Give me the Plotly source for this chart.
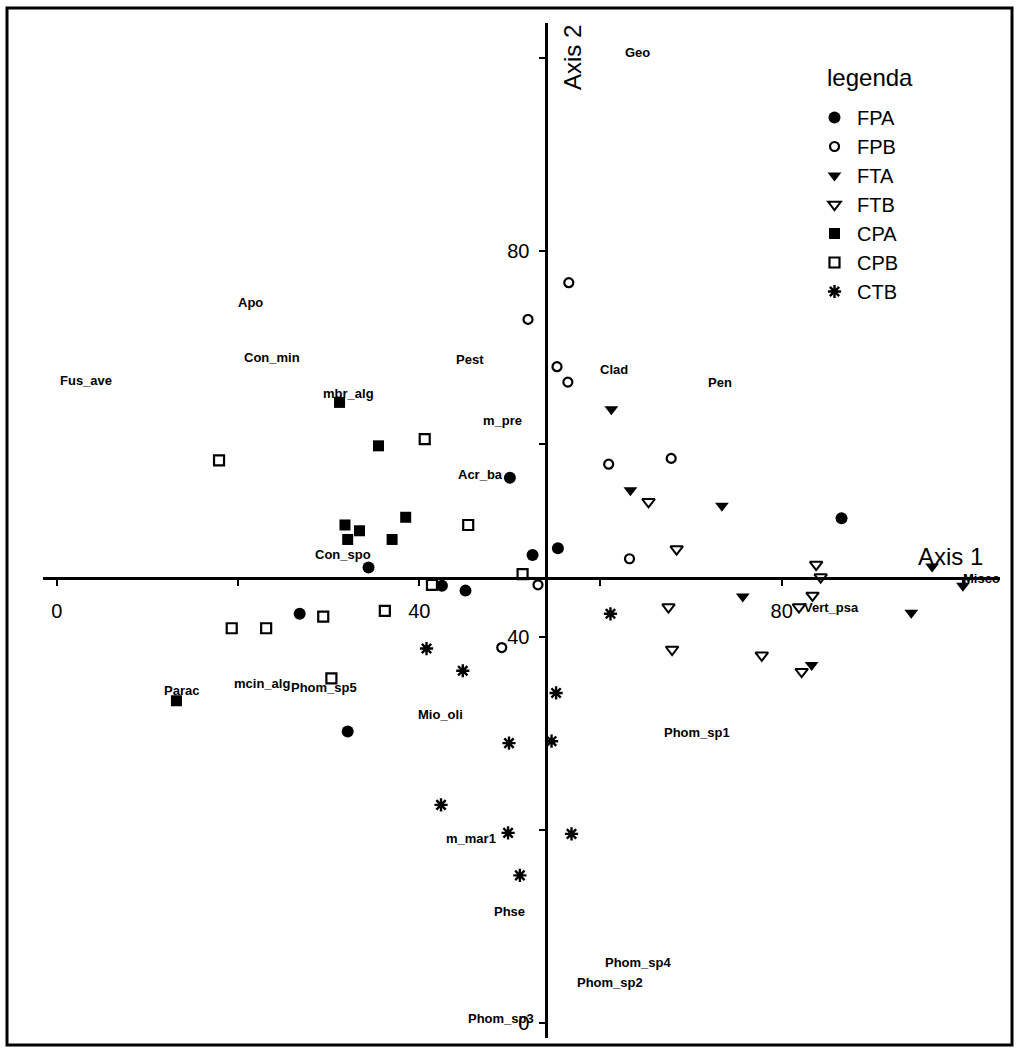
import plotly.graph_objects as go

# Sample scores on ordination axes 1 and 2, one pair of lists per group
FPA_AX1 = [50.0, 52.5, 55.3, 34.4, 42.5, 45.1, 26.8, 32.1, 86.6]
FPA_AX2 = [56.5, 48.5, 49.2, 47.2, 45.3, 44.8, 42.4, 30.2, 52.3]

FPB_AX1 = [56.5, 52.0, 55.2, 56.4, 60.9, 67.8, 63.2, 53.1, 49.1]
FPB_AX2 = [76.7, 72.9, 68.0, 66.4, 57.9, 58.5, 48.1, 45.4, 38.9]

FTA_AX1 = [61.2, 63.3, 73.4, 75.7, 96.6, 100.0, 94.3, 83.3]
FTA_AX2 = [63.6, 55.2, 53.6, 44.2, 47.3, 45.3, 42.5, 37.1]

FTB_AX1 = [65.3, 68.4, 67.5, 67.9, 83.8, 84.3, 83.4, 81.9, 77.8, 82.2]
FTB_AX2 = [54.0, 49.1, 43.1, 38.7, 47.5, 46.2, 44.3, 43.1, 38.1, 36.4]

CPA_AX1 = [31.2, 35.5, 38.5, 31.8, 33.4, 32.1, 37.0, 13.2]
CPA_AX2 = [64.3, 59.8, 52.4, 51.6, 51.0, 50.1, 50.1, 33.4]

CPB_AX1 = [17.9, 40.6, 45.4, 51.4, 41.4, 36.2, 29.4, 23.1, 19.3, 30.3]
CPB_AX2 = [58.3, 60.5, 51.6, 46.5, 45.4, 42.7, 42.1, 40.9, 40.9, 35.7]

CTB_AX1 = [61.1, 40.8, 44.8, 55.1, 54.6, 49.9, 42.4, 49.8, 56.8, 51.1]
CTB_AX2 = [42.4, 38.8, 36.5, 34.2, 29.2, 29.0, 22.6, 19.7, 19.6, 15.3]

# Species scores (drawn as text)
SPECIES = ["Geo", "Apo", "Con_min", "Fus_ave", "mbr_alg", "Pest", "Clad", "Pen",
           "m_pre", "Acr_ba", "Con_spo", "Misco", "Vert_psa", "Parac", "mcin_alg",
           "Phom_sp5", "Mio_oli", "Phom_sp1", "m_mar1", "Phse", "Phom_sp4",
           "Phom_sp2", "Phom_sp3"]
SPECIES_AX1 = [64.1, 21.4, 23.7, 3.2, 32.2, 45.6, 61.5, 73.2,
               49.2, 46.8, 31.6, 102.1, 85.5, 13.8, 22.6,
               29.5, 42.3, 70.6, 45.7, 50.0, 64.2,
               61.1, 49.0]
SPECIES_AX2 = [100.6, 74.7, 68.9, 66.6, 65.2, 68.7, 67.7, 66.4,
               62.4, 56.8, 48.5, 46.1, 43.0, 34.5, 35.2,
               34.8, 32.0, 30.1, 19.1, 11.6, 6.3,
               4.2, 0.5]

# Point where the two ordination axes cross
ORIGIN_AX1 = 54.0
ORIGIN_AX2 = 46.1

TICK_VALUES = [0, 20, 40, 60, 80, 100]
TICK_TEXT = ["0", "", "40", "", "80", ""]

X_RANGE = [-1.55, 104.05]
Y_RANGE = [-1.55, 103.6]
X_DOMAIN = [0.042, 0.981]
Y_DOMAIN = [0.0105, 0.978]

FONT = "Liberation Sans, Arial, Helvetica, sans-serif"

groups = [
    ("FPA", FPA_AX1, FPA_AX2, dict(symbol="circle", size=12, color="black", line=dict(width=0))),
    ("FPB", FPB_AX1, FPB_AX2, dict(symbol="circle-open", size=9, color="black", line=dict(width=2.2, color="black"))),
    ("FTA", FTA_AX1, FTA_AX2, dict(symbol="triangle-down", size=12, color="black", line=dict(width=0))),
    ("FTB", FTB_AX1, FTB_AX2, dict(symbol="triangle-down-open", size=11, color="black", line=dict(width=2, color="black"))),
    ("CPA", CPA_AX1, CPA_AX2, dict(symbol="square", size=11, color="black", line=dict(width=0))),
    ("CPB", CPB_AX1, CPB_AX2, dict(symbol="square-open", size=10, color="black", line=dict(width=2.2, color="black"))),
    ("CTB", CTB_AX1, CTB_AX2, dict(symbol="asterisk-open", size=11, color="black", line=dict(width=2.4, color="black"))),
]

fig = go.Figure()
for name, xs, ys, marker in groups:
    fig.add_trace(go.Scatter(x=xs, y=ys, mode="markers", name=name, marker=marker))

for label, sx, sy in zip(SPECIES, SPECIES_AX1, SPECIES_AX2):
    fig.add_annotation(x=sx, y=sy, text=label, showarrow=False,
                       font=dict(family=FONT, size=13, color="black", weight="bold"),
                       xanchor="center", yanchor="middle")


def frac(v, rng, dom):
    return dom[0] + (v - rng[0]) / (rng[1] - rng[0]) * (dom[1] - dom[0])


axis_style = dict(
    showline=True, linecolor="black", linewidth=2.5,
    ticks="outside", ticklen=6, tickwidth=2, tickcolor="black",
    tickvals=TICK_VALUES, ticktext=TICK_TEXT,
    tickfont=dict(family=FONT, size=20, color="black"),
    showgrid=False, zeroline=False, automargin=False, fixedrange=True,
)

fig.update_layout(
    width=1019, height=1049,
    margin=dict(l=0, r=0, t=0, b=0),
    paper_bgcolor="white", plot_bgcolor="white",
    xaxis=dict(domain=X_DOMAIN, range=X_RANGE, anchor="free",
               position=frac(ORIGIN_AX2, Y_RANGE, Y_DOMAIN),
               ticklabelstandoff=8, **axis_style),
    yaxis=dict(domain=Y_DOMAIN, range=Y_RANGE, anchor="free", side="left",
               position=frac(ORIGIN_AX1, X_RANGE, X_DOMAIN),
               ticklabelstandoff=6, **axis_style),
    showlegend=True,
    legend=dict(
        font=dict(family=FONT, size=20, color="black"),
        itemwidth=35,
        x=812 / 1019, y=(1049 - 98) / 1049, xanchor="left", yanchor="top",
        bgcolor="rgba(0,0,0,0)", borderwidth=0,
    ),
    annotations=list(fig.layout.annotations) + [
        dict(text="legenda", xref="paper", yref="paper", x=825 / 1019, y=(1049 - 77) / 1049,
             xanchor="left", yanchor="middle", showarrow=False,
             font=dict(family=FONT, size=24, color="black")),
        dict(text="Axis 1", xref="paper", yref="paper", x=950 / 1019, y=(1049 - 556) / 1049,
             xanchor="center", yanchor="middle",
             showarrow=False, font=dict(family=FONT, size=24, color="black")),
        dict(text="Axis 2", xref="paper", yref="paper", x=572 / 1019, y=(1049 - 58) / 1049,
             xanchor="center", yanchor="middle",
             textangle=-90, showarrow=False, font=dict(family=FONT, size=24, color="black")),
    ],
    shapes=[dict(type="rect", xref="paper", yref="paper",
                 x0=7 / 1019, x1=1012 / 1019, y0=4 / 1049, y1=1041 / 1049,
                 line=dict(color="black", width=3))],
)

fig.write_html("out.html")
